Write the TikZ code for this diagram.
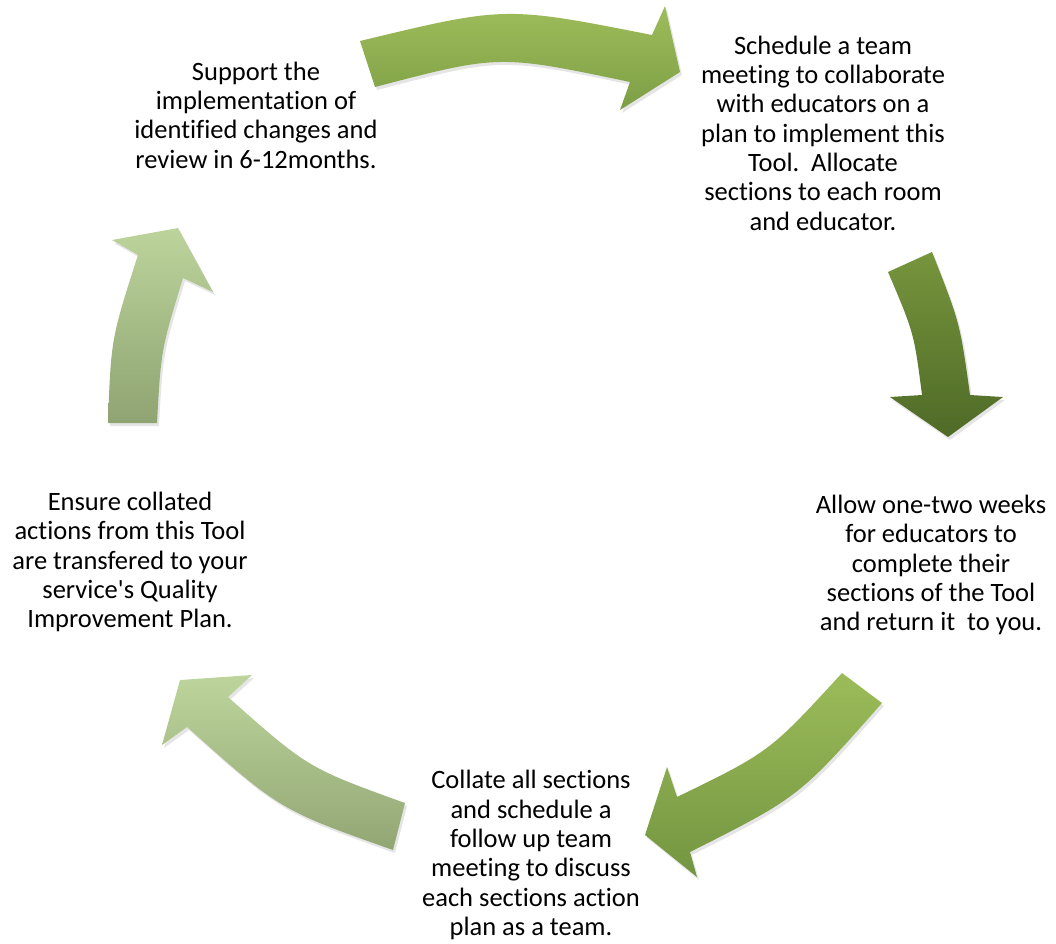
\documentclass[tikz,border=0pt]{standalone}
\usepackage{fontspec}
\setmainfont{Carlito}[Ligatures={TeXOff,NoCommon}]
\definecolor{gTopA}{HTML}{9DBD5B}
\definecolor{gTopB}{HTML}{7E9E45}
\definecolor{gRgtA}{HTML}{77953D}
\definecolor{gRgtB}{HTML}{4E6A27}
\definecolor{gBrA}{HTML}{9CBC5A}
\definecolor{gBrB}{HTML}{739540}
\definecolor{gBlA}{HTML}{BDD59D}
\definecolor{gBlB}{HTML}{92A673}
\definecolor{gLA}{HTML}{BCD49C}
\definecolor{gLB}{HTML}{8FA472}
\newcommand\pathTop{(360,41) .. controls (505,6) .. (652,35) -- (665,6) -- (680,72) -- (620,110) -- (630,82) .. controls (499,54.5) .. (375,87) -- cycle}
\newcommand\pathRgt{(888,272) -- (932,252) .. controls (960,323) .. (970,395) -- (1003,397) -- (948,437) -- (890,397) -- (922,395) .. controls (914,333) .. (888,272) -- cycle}
\newcommand\pathBr{(842,673) -- (882,703) .. controls (799,797) .. (690,852) -- (697,877) -- (645,835) -- (667,767) -- (677,797) .. controls (769.5,752) .. (842,673) -- cycle}
\newcommand\pathBl{(405,803) -- (393,850) .. controls (280,810) .. (187,727) -- (162,745) -- (180,680) -- (252,675) -- (228,697) .. controls (308,768) .. (405,803) -- cycle}
\newcommand\pathLft{(108,423) -- (157,423) .. controls (161,350) .. (183,278) -- (213,292) -- (178,228) -- (112,240) -- (138,255) .. controls (111,339) .. (108,423) -- cycle}
\begin{document}
\begin{tikzpicture}[x=1pt,y=-1pt,
  lbl/.style={align=center,inner sep=0pt,font=\fontsize{26.5}{29.3}\selectfont,text=black},
  shadowcopy/.style={fill=black,opacity=0.10,shift={(2,3)}}]
\useasboundingbox (0,0) rectangle (1056,943);
% shadows
\fill[shadowcopy] \pathTop;
\fill[shadowcopy] \pathRgt;
\fill[shadowcopy] \pathBr;
\fill[shadowcopy] \pathBl;
\fill[shadowcopy] \pathLft;
% arrows
\shade[top color=gTopA,bottom color=gTopB] \pathTop;
\shade[top color=gRgtA,bottom color=gRgtB] \pathRgt;
\shade[top color=gBrA,bottom color=gBrB] \pathBr;
\shade[top color=gBlA,bottom color=gBlB] \pathBl;
\shade[top color=gLA,bottom color=gLB] \pathLft;
% texts
\node[lbl] (support) at (256,115) {Support the\\implementation of\\identified changes and\\review in 6-12months.};
\node[lbl] (schedule) at (823,133) {Schedule a team\\meeting to collaborate\\with educators on a\\plan to implement this\\Tool.\ \ Allocate\\sections to each room\\and educator.};
\node[lbl] (allow) at (931,565) {Allow one-two weeks\\for educators to\\complete their\\sections of the Tool\\and return it\ \ to you.};
\node[lbl] (ensure) at (130,562) {Ensure collated\\actions from this Tool\\are transfered to your\\service's Quality\\Improvement Plan.};
\node[lbl] (collate) at (531,855) {Collate all sections\\and schedule a\\follow up team\\meeting to discuss\\each sections action\\plan as a team.};
\end{tikzpicture}
\end{document}
